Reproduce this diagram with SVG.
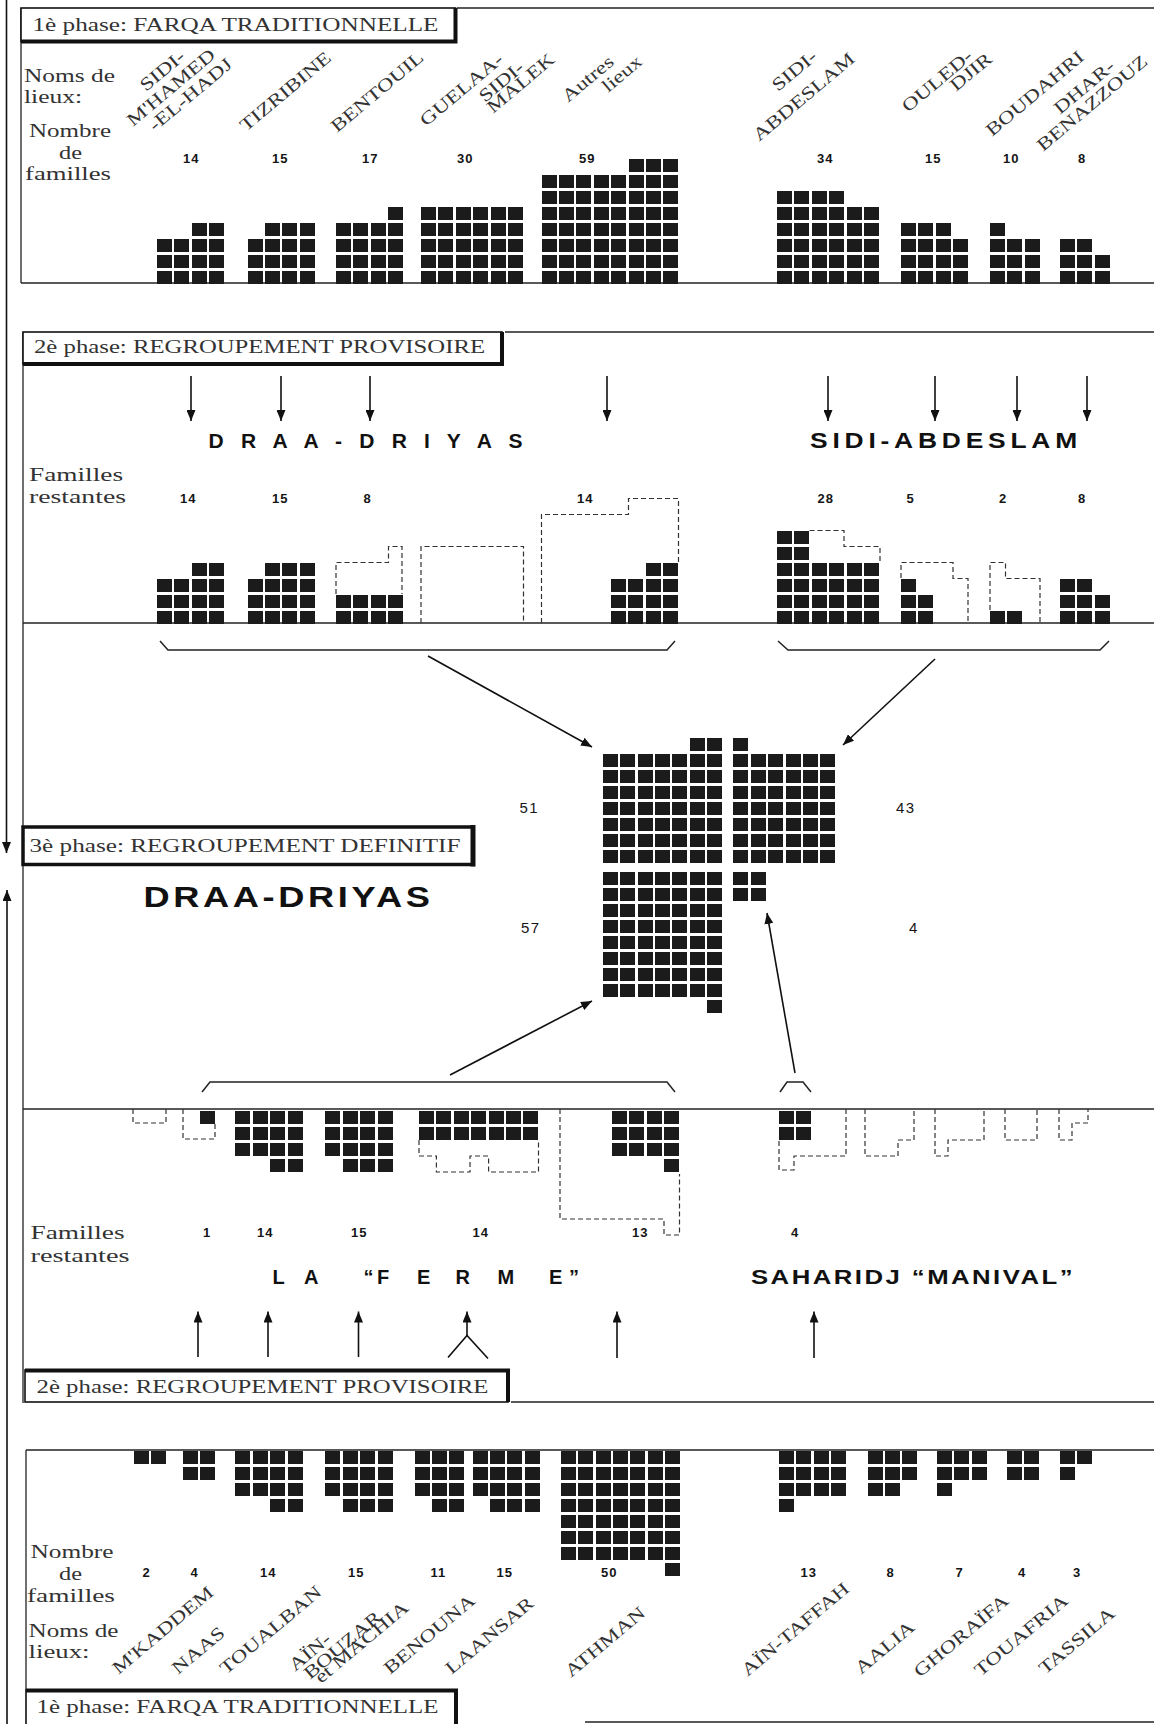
<svg xmlns="http://www.w3.org/2000/svg" width="1154" height="1724" viewBox="0 0 1154 1724">
<defs>
<style>
.q{fill:#1b1b1b;shape-rendering:crispEdges}
.fr{stroke:#222;stroke-width:1.3;fill:none}
.bx{stroke:#111;stroke-width:1.6;fill:#fff}
.th{stroke:#111;stroke-width:4;fill:none}
.ds{stroke:#333;stroke-width:1.2;fill:none;stroke-dasharray:5 3}
.br{stroke:#222;stroke-width:1.5;fill:none}
.ar{stroke:#111;stroke-width:1.6;fill:none;marker-end:url(#ah)}
.ln{stroke:#111;stroke-width:1.6;fill:none}
.lb{font-family:"Liberation Serif",serif;font-size:18px;fill:#333}
.rl{font-family:"Liberation Serif",serif;font-size:18px;fill:#333}
.nm{font-family:"Liberation Sans",Arial,sans-serif;font-size:13px;font-weight:bold;fill:#151515;letter-spacing:1px}
.nm2{font-family:"Liberation Sans",Arial,sans-serif;font-size:15px;fill:#151515;letter-spacing:1.5px}
.bd{font-family:"Liberation Sans",Arial,sans-serif;font-weight:bold;fill:#111}
</style>
<marker id="ah" viewBox="0 0 11 9" refX="11" refY="4.5" markerWidth="11" markerHeight="9" markerUnits="userSpaceOnUse" orient="auto"><path d="M0,0 L11,4.5 L0,9 z" fill="#111"/></marker>
<g id="c1"><rect class="q" width="15" height="13"/></g>
<g id="c2"><use href="#c1"/><use href="#c1" y="16"/></g>
<g id="c3"><use href="#c2"/><use href="#c1" y="32"/></g>
<g id="c4"><use href="#c2"/><use href="#c2" y="32"/></g>
<g id="c5"><use href="#c4"/><use href="#c1" y="64"/></g>
<g id="c6"><use href="#c4"/><use href="#c2" y="64"/></g>
<g id="c7"><use href="#c4"/><use href="#c3" y="64"/></g>
<g id="c8"><use href="#c4"/><use href="#c4" y="64"/></g>
<g id="c9"><use href="#c8"/><use href="#c1" y="128"/></g>
</defs>
<rect width="1154" height="1724" fill="#fff"/>

<g id="frames">
<line class="fr" x1="457" y1="8" x2="1154" y2="8"/>
<line class="fr" x1="21" y1="8" x2="21" y2="283"/>
<line class="fr" x1="21" y1="283" x2="1154" y2="283"/>
<line class="fr" x1="505" y1="332" x2="1154" y2="332"/>
<line class="fr" x1="23" y1="332" x2="23" y2="1403"/>
<line class="fr" x1="23" y1="623" x2="1154" y2="623"/>
<line class="fr" x1="23" y1="1109" x2="1154" y2="1109"/>
<line class="fr" x1="511" y1="1402" x2="1154" y2="1402"/>
<line class="fr" x1="26" y1="1450" x2="1154" y2="1450"/>
<line class="fr" x1="26" y1="1450" x2="26" y2="1690"/>
<line class="fr" x1="585" y1="1722" x2="1154" y2="1722"/>
</g>

<g id="box-phase1-top">
<rect class="bx" x="21" y="8" width="434.5" height="33.5"/>
<path class="th" d="M455.5,8 V41.5 H21"/>
<text class="lb" x="32.5" y="31" textLength="406" lengthAdjust="spacingAndGlyphs">1è phase: FARQA TRADITIONNELLE</text>
</g>
<g id="box-phase2-top">
<rect class="bx" x="23" y="332" width="479" height="32"/>
<path class="th" d="M502,332 V364 H23"/>
<text class="lb" x="34" y="353" textLength="451" lengthAdjust="spacingAndGlyphs">2è phase: REGROUPEMENT PROVISOIRE</text>
</g>
<g id="box-phase3">
<rect x="23" y="827" width="450" height="37.5" fill="#fff" stroke="#111" stroke-width="3.5"/>
<line x1="473" y1="825" x2="473" y2="866.5" stroke="#111" stroke-width="5"/>
<text class="lb" x="29.5" y="852" textLength="431" lengthAdjust="spacingAndGlyphs">3è phase: REGROUPEMENT DEFINITIF</text>
</g>
<g id="box-phase2-bottom">
<rect class="bx" x="25" y="1370" width="483" height="32"/>
<path class="th" d="M25,1370.5 H508 V1402"/>
<text class="lb" x="36.5" y="1393" textLength="452" lengthAdjust="spacingAndGlyphs">2è phase: REGROUPEMENT PROVISOIRE</text>
</g>
<g id="box-phase1-bottom">
<rect class="bx" x="26" y="1690" width="430" height="40"/>
<path class="th" d="M26,1690.5 H456 V1724"/>
<text class="lb" x="36.5" y="1713" textLength="402" lengthAdjust="spacingAndGlyphs">1è phase: FARQA TRADITIONNELLE</text>
</g>

<g id="side-labels">
<text class="lb" x="24" y="82" textLength="91" lengthAdjust="spacingAndGlyphs">Noms de</text>
<text class="lb" x="24" y="103" textLength="58" lengthAdjust="spacingAndGlyphs">lieux:</text>
<text class="lb" x="29" y="137" textLength="82" lengthAdjust="spacingAndGlyphs">Nombre</text>
<text class="lb" x="59" y="159" textLength="23" lengthAdjust="spacingAndGlyphs">de</text>
<text class="lb" x="25" y="180" textLength="86" lengthAdjust="spacingAndGlyphs">familles</text>
<text class="lb" x="29" y="481" textLength="94" lengthAdjust="spacingAndGlyphs">Familles</text>
<text class="lb" x="29" y="503" textLength="97" lengthAdjust="spacingAndGlyphs">restantes</text>
<text class="lb" x="30.5" y="1239" textLength="94" lengthAdjust="spacingAndGlyphs">Familles</text>
<text class="lb" x="30.5" y="1262" textLength="99" lengthAdjust="spacingAndGlyphs">restantes</text>
<text class="lb" x="30.5" y="1558" textLength="83" lengthAdjust="spacingAndGlyphs">Nombre</text>
<text class="lb" x="59" y="1580" textLength="23" lengthAdjust="spacingAndGlyphs">de</text>
<text class="lb" x="27" y="1602" textLength="88" lengthAdjust="spacingAndGlyphs">familles</text>
<text class="lb" x="28.5" y="1637" textLength="90" lengthAdjust="spacingAndGlyphs">Noms de</text>
<text class="lb" x="28.5" y="1658" textLength="61" lengthAdjust="spacingAndGlyphs">lieux:</text>
</g>

<g id="names-top">
<text class="rl" transform="translate(146,92) rotate(-40) scale(1.28,1)">SIDI-</text>
<text class="rl" transform="translate(133,127) rotate(-40) scale(1.28,1)">M'HAMED</text>
<text class="rl" transform="translate(155,132) rotate(-40) scale(1.28,1)">-EL-HADJ</text>
<text class="rl" transform="translate(246,132) rotate(-40) scale(1.28,1)">TIZRIBINE</text>
<text class="rl" transform="translate(337,133) rotate(-40) scale(1.28,1)">BENTOUIL</text>
<text class="rl" transform="translate(426,127) rotate(-40) scale(1.28,1)">GUELAA-</text>
<text class="rl" transform="translate(485,103) rotate(-40) scale(1.28,1)">SIDI-</text>
<text class="rl" transform="translate(493,114) rotate(-40) scale(1.28,1)">MALEK</text>
<text class="rl" transform="translate(568,103) rotate(-40) scale(1.28,1)">Autres</text>
<text class="rl" transform="translate(608,93) rotate(-40) scale(1.28,1)">lieux</text>
<text class="rl" transform="translate(778,92) rotate(-40) scale(1.28,1)">SIDI-</text>
<text class="rl" transform="translate(759,142) rotate(-40) scale(1.28,1)">ABDESLAM</text>
<text class="rl" transform="translate(908,113) rotate(-40) scale(1.28,1)">OULED-</text>
<text class="rl" transform="translate(956,92) rotate(-40) scale(1.28,1)">DJIR</text>
<text class="rl" transform="translate(992,137) rotate(-40) scale(1.28,1)">BOUDAHRI</text>
<text class="rl" transform="translate(1060,115) rotate(-40) scale(1.28,1)">DHAR-</text>
<text class="rl" transform="translate(1043,152) rotate(-40) scale(1.28,1)">BENAZZOUZ</text>
</g>

<g id="names-bottom">
<text class="rl" transform="translate(118.5,1675) rotate(-40) scale(1.28,1)">M'KADDEM</text>
<text class="rl" transform="translate(178,1675) rotate(-40) scale(1.28,1)">NAAS</text>
<text class="rl" transform="translate(226,1675) rotate(-40) scale(1.28,1)">TOUALBAN</text>
<text class="rl" transform="translate(295,1672) rotate(-40) scale(1.28,1)">AÏN-</text>
<text class="rl" transform="translate(310,1680) rotate(-40) scale(1.28,1)">BOUZAR</text>
<text class="rl" transform="translate(321,1684) rotate(-40) scale(1.28,1)">et MACHIA</text>
<text class="rl" transform="translate(390,1675) rotate(-40) scale(1.28,1)">BENOUNA</text>
<text class="rl" transform="translate(451.5,1675) rotate(-40) scale(1.28,1)">LAANSAR</text>
<text class="rl" transform="translate(571,1678) rotate(-40) scale(1.28,1)">ATHMAN</text>
<text class="rl" transform="translate(747.5,1677) rotate(-40) scale(1.28,1)">AÏN-TAFFAH</text>
<text class="rl" transform="translate(861,1675) rotate(-40) scale(1.28,1)">AALIA</text>
<text class="rl" transform="translate(920,1678) rotate(-40) scale(1.28,1)">GHORAÏFA</text>
<text class="rl" transform="translate(980.5,1677) rotate(-40) scale(1.28,1)">TOUAFRIA</text>
<text class="rl" transform="translate(1045,1675) rotate(-40) scale(1.28,1)">TASSILA</text>
</g>

<g id="numbers">
<text class="nm" x="183" y="163">14</text>
<text class="nm" x="272" y="163">15</text>
<text class="nm" x="362" y="163">17</text>
<text class="nm" x="457" y="163">30</text>
<text class="nm" x="579" y="163">59</text>
<text class="nm" x="817" y="163">34</text>
<text class="nm" x="925" y="163">15</text>
<text class="nm" x="1003" y="163">10</text>
<text class="nm" x="1078" y="163">8</text>
<text class="nm" x="180" y="503">14</text>
<text class="nm" x="272" y="503">15</text>
<text class="nm" x="363.5" y="503">8</text>
<text class="nm" x="577" y="503">14</text>
<text class="nm" x="817.5" y="503">28</text>
<text class="nm" x="906.5" y="503">5</text>
<text class="nm" x="999" y="503">2</text>
<text class="nm" x="1078" y="503">8</text>
<text class="nm2" x="519.5" y="813">51</text>
<text class="nm2" x="896" y="813">43</text>
<text class="nm2" x="521" y="933">57</text>
<text class="nm2" x="909" y="933">4</text>
<text class="nm" x="203" y="1237">1</text>
<text class="nm" x="257" y="1237">14</text>
<text class="nm" x="351" y="1237">15</text>
<text class="nm" x="472.5" y="1237">14</text>
<text class="nm" x="632" y="1237">13</text>
<text class="nm" x="791" y="1237">4</text>
<text class="nm" x="142.5" y="1577">2</text>
<text class="nm" x="190.5" y="1577">4</text>
<text class="nm" x="260" y="1577">14</text>
<text class="nm" x="348" y="1577">15</text>
<text class="nm" x="430.5" y="1577">11</text>
<text class="nm" x="496.5" y="1577">15</text>
<text class="nm" x="601" y="1577">50</text>
<text class="nm" x="800.5" y="1577">13</text>
<text class="nm" x="886.5" y="1577">8</text>
<text class="nm" x="955.5" y="1577">7</text>
<text class="nm" x="1018" y="1577">4</text>
<text class="nm" x="1073" y="1577">3</text>
</g>

<g id="settlements">
<text class="bd" x="208.5" y="448" font-size="21" textLength="314" lengthAdjust="spacing">D R A A - D R I Y A S</text>
<text class="bd" x="810" y="448" font-size="22" letter-spacing="4" textLength="272" lengthAdjust="spacingAndGlyphs">SIDI-ABDESLAM</text>
<text class="bd" x="143.5" y="907" font-size="30" letter-spacing="3" textLength="290" lengthAdjust="spacingAndGlyphs">DRAA-DRIYAS</text>
<text class="bd" y="1284" font-size="20" x="272.5 290 304 330 363.5 377 400 417 440 455.5 480 497.5 530 549 569">L A “F E R M E”</text>
<text class="bd" x="751" y="1284" font-size="21" letter-spacing="2" textLength="324" lengthAdjust="spacingAndGlyphs">SAHARIDJ “MANIVAL”</text>
</g>

<!-- phase 1 top -->
<g id="p1-sidi-mhamed" transform="translate(157,222.5)"><use href="#c3" y="16"/><use href="#c3" x="17.4" y="16"/><use href="#c4" x="34.8"/><use href="#c4" x="52.2"/></g>
<g id="p1-tizribine" transform="translate(247.5,222.5)"><use href="#c3" y="16"/><use href="#c4" x="17.4"/><use href="#c4" x="34.8"/><use href="#c4" x="52.2"/></g>
<g id="p1-bentouil" transform="translate(336,206.5)"><use href="#c4" y="16"/><use href="#c4" x="17.4" y="16"/><use href="#c4" x="34.8" y="16"/><use href="#c5" x="52.2"/></g>
<g id="p1-guelaa" transform="translate(421,206.5)"><use href="#c5"/><use href="#c5" x="17.4"/><use href="#c5" x="34.8"/><use href="#c5" x="52.2"/><use href="#c5" x="69.6"/><use href="#c5" x="87"/></g>
<g id="p1-autres" transform="translate(541.5,158.5)"><use href="#c7" y="16"/><use href="#c7" x="17.4" y="16"/><use href="#c7" x="34.8" y="16"/><use href="#c7" x="52.2" y="16"/><use href="#c7" x="69.6" y="16"/><use href="#c8" x="87"/><use href="#c8" x="104.4"/><use href="#c8" x="121.8"/></g>
<g id="p1-sidi-abdeslam" transform="translate(777,190.5)"><use href="#c6"/><use href="#c6" x="17.4"/><use href="#c6" x="34.8"/><use href="#c6" x="52.2"/><use href="#c5" x="69.6" y="16"/><use href="#c5" x="87" y="16"/></g>
<g id="p1-ouled-djir" transform="translate(901,222.5)"><use href="#c4"/><use href="#c4" x="17.4"/><use href="#c4" x="34.8"/><use href="#c3" x="52.2" y="16"/></g>
<g id="p1-boudahri" transform="translate(990,222.5)"><use href="#c4"/><use href="#c3" x="17.4" y="16"/><use href="#c3" x="34.8" y="16"/></g>
<g id="p1-dhar" transform="translate(1060,238.5)"><use href="#c3"/><use href="#c3" x="17.4"/><use href="#c2" x="34.8" y="16"/></g>

<!-- phase 2 top -->
<g id="p2-sidi-mhamed" transform="translate(157,562.5)"><use href="#c3" y="16"/><use href="#c3" x="17.4" y="16"/><use href="#c4" x="34.8"/><use href="#c4" x="52.2"/></g>
<g id="p2-tizribine" transform="translate(247.5,562.5)"><use href="#c3" y="16"/><use href="#c4" x="17.4"/><use href="#c4" x="34.8"/><use href="#c4" x="52.2"/></g>
<g id="p2-bentouil" transform="translate(336,594.5)"><use href="#c2"/><use href="#c2" x="17.4"/><use href="#c2" x="34.8"/><use href="#c2" x="52.2"/></g>
<g id="p2-autres" transform="translate(611,562.5)"><use href="#c3" y="16"/><use href="#c3" x="17.4" y="16"/><use href="#c4" x="34.8"/><use href="#c4" x="52.2"/></g>
<g id="p2-sidi-abdeslam" transform="translate(777,530.5)"><use href="#c6"/><use href="#c6" x="17.4"/><use href="#c4" x="34.8" y="32"/><use href="#c4" x="52.2" y="32"/><use href="#c4" x="69.6" y="32"/><use href="#c4" x="87" y="32"/></g>
<g id="p2-ouled-djir" transform="translate(901,578.5)"><use href="#c3"/><use href="#c2" x="17.4" y="16"/></g>
<g id="p2-boudahri" transform="translate(990,610.5)"><use href="#c1"/><use href="#c1" x="17.4"/></g>
<g id="p2-dhar" transform="translate(1060,578.5)"><use href="#c3"/><use href="#c3" x="17.4"/><use href="#c2" x="34.8" y="16"/></g>
<g id="p2-departed">
<path class="ds" d="M336,594 V562.5 H388.5 V546.5 H402 V594"/>
<path class="ds" d="M421,623 V546.5 H523.5 V623"/>
<path class="ds" d="M541.5,623 V514.5 H628.5 V498.5 H678.5 V562"/>
<path class="ds" d="M809.5,530.5 H844 V546.5 H880 V562"/>
<path class="ds" d="M901,578 V562.5 H953 V578.5 H968 V623"/>
<path class="ds" d="M990,610 V562.5 H1005.5 V578.5 H1040 V623"/>
</g>

<!-- phase 3 -->
<g id="p3-draa-driyas-top" transform="translate(602.7,737.5)"><use href="#c7" y="16"/><use href="#c7" x="17.4" y="16"/><use href="#c7" x="34.8" y="16"/><use href="#c7" x="52.2" y="16"/><use href="#c7" x="69.6" y="16"/><use href="#c8" x="87"/><use href="#c8" x="104.4"/></g>
<g id="p3-sidi-abdeslam" transform="translate(733.3,737.5)"><use href="#c8"/><use href="#c7" x="17.4" y="16"/><use href="#c7" x="34.8" y="16"/><use href="#c7" x="52.2" y="16"/><use href="#c7" x="69.6" y="16"/><use href="#c7" x="87" y="16"/></g>
<g id="p3-la-ferme" transform="translate(602.7,871.7)"><use href="#c8"/><use href="#c8" x="17.4"/><use href="#c8" x="34.8"/><use href="#c8" x="52.2"/><use href="#c8" x="69.6"/><use href="#c8" x="87"/><use href="#c9" x="104.4"/></g>
<g id="p3-saharidj" transform="translate(733.3,871.7)"><use href="#c2"/><use href="#c2" x="17.4"/></g>

<!-- phase 2 bottom -->
<g id="p4-naas" transform="translate(200,1110.5)"><use href="#c1"/></g>
<g id="p4-toualban" transform="translate(235.4,1110.5)"><use href="#c3"/><use href="#c3" x="17.4"/><use href="#c4" x="34.8"/><use href="#c4" x="52.2"/></g>
<g id="p4-ain-bouzar" transform="translate(325.3,1110.5)"><use href="#c3"/><use href="#c4" x="17.4"/><use href="#c4" x="34.8"/><use href="#c4" x="52.2"/></g>
<g id="p4-benouna-laansar" transform="translate(419,1110.5)"><use href="#c2"/><use href="#c2" x="17.4"/><use href="#c2" x="34.8"/><use href="#c2" x="52.2"/><use href="#c2" x="69.6"/><use href="#c2" x="87"/><use href="#c2" x="104.4"/></g>
<g id="p4-athman" transform="translate(612,1110.5)"><use href="#c3"/><use href="#c3" x="17.4"/><use href="#c3" x="34.8"/><use href="#c4" x="52.2"/></g>
<g id="p4-ain-taffah" transform="translate(779,1110.5)"><use href="#c2"/><use href="#c2" x="17.4"/></g>
<g id="p4-departed">
<path class="ds" d="M133,1109 V1123 H166 V1109"/>
<path class="ds" d="M183,1109 V1139 H215 V1124"/>
<path class="ds" d="M419,1140 V1156 H436.4 V1172 H470 V1156 H488.6 V1172 H538.5 V1140"/>
<path class="ds" d="M560,1109 V1219 H664 V1235 H679.5 V1174"/>
<path class="ds" d="M779,1141 V1170 H794 V1156 H846 V1109"/>
<path class="ds" d="M865,1109 V1156 H898 V1140 H914 V1109"/>
<path class="ds" d="M935,1109 V1156 H948 V1140 H984 V1109"/>
<path class="ds" d="M1005,1109 V1140 H1037 V1109"/>
<path class="ds" d="M1059,1109 V1140 H1072 V1123 H1088 V1109"/>
</g>

<!-- phase 1 bottom -->
<g id="p5-mkaddem" transform="translate(134,1450.5)"><use href="#c1"/><use href="#c1" x="17.4"/></g>
<g id="p5-naas" transform="translate(183,1450.5)"><use href="#c2"/><use href="#c2" x="17.4"/></g>
<g id="p5-toualban" transform="translate(235.4,1450.5)"><use href="#c3"/><use href="#c3" x="17.4"/><use href="#c4" x="34.8"/><use href="#c4" x="52.2"/></g>
<g id="p5-ain-bouzar" transform="translate(325.3,1450.5)"><use href="#c3"/><use href="#c4" x="17.4"/><use href="#c4" x="34.8"/><use href="#c4" x="52.2"/></g>
<g id="p5-benouna" transform="translate(414.5,1450.5)"><use href="#c3"/><use href="#c4" x="17.4"/><use href="#c4" x="34.8"/></g>
<g id="p5-laansar" transform="translate(472.6,1450.5)"><use href="#c3"/><use href="#c4" x="17.4"/><use href="#c4" x="34.8"/><use href="#c4" x="52.2"/></g>
<g id="p5-athman" transform="translate(560.7,1450.5)"><use href="#c7"/><use href="#c7" x="17.4"/><use href="#c7" x="34.8"/><use href="#c7" x="52.2"/><use href="#c7" x="69.6"/><use href="#c7" x="87"/><use href="#c8" x="104.4"/></g>
<g id="p5-ain-taffah" transform="translate(779,1450.5)"><use href="#c4"/><use href="#c3" x="17.4"/><use href="#c3" x="34.8"/><use href="#c3" x="52.2"/></g>
<g id="p5-aalia" transform="translate(867.6,1450.5)"><use href="#c3"/><use href="#c3" x="17.4"/><use href="#c2" x="34.8"/></g>
<g id="p5-ghoraifa" transform="translate(937,1450.5)"><use href="#c3"/><use href="#c2" x="17.4"/><use href="#c2" x="34.8"/></g>
<g id="p5-touafria" transform="translate(1007,1450.5)"><use href="#c2"/><use href="#c2" x="17.4"/></g>
<g id="p5-tassila" transform="translate(1060,1450.5)"><use href="#c2"/><use href="#c1" x="17.4"/></g>

<g id="connectors">
<line class="ar" x1="6.5" y1="0" x2="6.5" y2="853"/>
<line class="ar" x1="7" y1="1724" x2="7" y2="890"/>
<line class="ar" x1="191" y1="376" x2="191" y2="421"/>
<line class="ar" x1="281" y1="376" x2="281" y2="421"/>
<line class="ar" x1="370" y1="376" x2="370" y2="421"/>
<line class="ar" x1="607" y1="376" x2="607" y2="421"/>
<line class="ar" x1="828" y1="376" x2="828" y2="421"/>
<line class="ar" x1="935" y1="376" x2="935" y2="421"/>
<line class="ar" x1="1017" y1="376" x2="1017" y2="421"/>
<line class="ar" x1="1087" y1="376" x2="1087" y2="421"/>
<path class="br" d="M160,641 L168,650 H667 L675,641"/>
<path class="br" d="M778,641 L788,650 H1100 L1109,641"/>
<line class="ar" x1="428" y1="656" x2="592" y2="747"/>
<line class="ar" x1="935" y1="659" x2="843" y2="745"/>
<path class="br" d="M202,1092 L210,1082 H667 L675,1092"/>
<path class="br" d="M780,1092 L787,1082 H803 L811,1092"/>
<line class="ar" x1="450" y1="1075" x2="592" y2="1001"/>
<line class="ar" x1="795" y1="1073" x2="767" y2="913"/>
<line class="ar" x1="198" y1="1357" x2="198" y2="1311.5"/>
<line class="ar" x1="268" y1="1357" x2="268" y2="1311.5"/>
<line class="ar" x1="358.5" y1="1357" x2="358.5" y2="1311.5"/>
<line class="ar" x1="467" y1="1336" x2="467" y2="1311.5"/>
<path class="ln" d="M448,1357.5 L467,1335.5 L488,1358.5"/>
<line class="ar" x1="617" y1="1358" x2="617" y2="1311.5"/>
<line class="ar" x1="814" y1="1358" x2="814" y2="1311.5"/>
</g>
</svg>
